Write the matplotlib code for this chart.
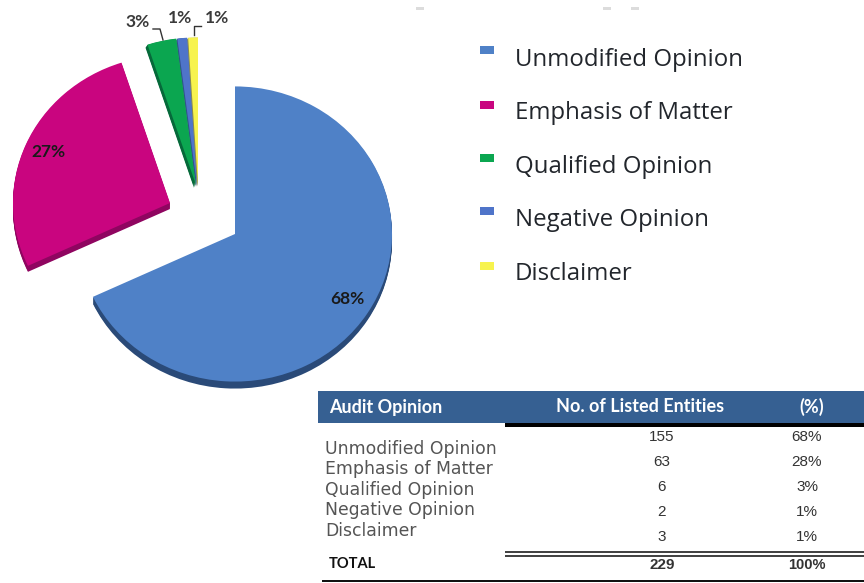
import matplotlib.pyplot as plt
from matplotlib.patches import Rectangle
from matplotlib.transforms import Affine2D

W = 864
H = 583

categories = ["Unmodified Opinion", "Emphasis of Matter", "Qualified Opinion", "Negative Opinion", "Disclaimer"]
pie_values = [68, 27, 3, 1, 1]
pie_labels = ["68%", "27%", "3%", "1%", "1%"]
entities = ["155", "63", "6", "2", "3"]
percents = ["68%", "28%", "3%", "1%", "1%"]
total_entities = "229"
total_percent = "100%"
header = ["Audit Opinion", "No. of Listed Entities", "(%)"]

colors = ["#4F81C7", "#C9057F", "#0BA650", "#4F74C9", "#F7F34E"]
dark_colors = ["#2A4A78", "#8F0560", "#06693A", "#33508C", "#8A8A50"]

# apex of each slice in image pixels (the slices are pulled out by hand)
centers = [(235, 234), (170, 203), (196, 185), (197, 185), (198, 185)]
radius = 157
squash = 0.94
depth = [(0, 7), (0, 6), (-2, 3), (-1, 2), (-1, 2)]


def py(y):
    # image pixels count from the top
    return H - y


fig = plt.figure(figsize=(W / 100, H / 100), dpi=100)
ax = fig.add_axes([0, 0, 1, 1])


def place(wedges, shift):
    # move each slice to its apex and flatten it a bit, the original is a tilted 3d pie
    for w, c, d in zip(wedges, centers, depth):
        x = c[0] + d[0] * shift
        y = py(c[1] + d[1] * shift)
        w.set_center((x, y))
        w.set_radius(radius)
        w.set_transform(Affine2D().translate(-x, -y).scale(1, squash).translate(x, y) + ax.transData)


# dark copies underneath give the 3d edge
for step in range(1, 8):
    under, _ = ax.pie(pie_values, colors=dark_colors, startangle=90, counterclock=False)
    place(under, step / 7)

top, _ = ax.pie(pie_values, colors=colors, startangle=90, counterclock=False)
place(top, 0)

# pie resets limits and aspect
ax.set_xlim(0, W)
ax.set_ylim(0, H)
ax.set_aspect("auto")
ax.axis("off")

# pie labels
label_pos = [(347, 299), (48, 152), (138, 22), (180, 18), (217, 18)]
for t, p in zip(pie_labels, label_pos):
    ax.text(p[0], py(p[1]), t, fontsize=12.5, fontweight="bold", family="Lato",
            color="#1a1a1a" if p[1] > 100 else "#3a3a3a", ha="center", va="center")

# leader lines
ax.plot([153, 160, 163], [py(29), py(29), py(40)], color="#333333", lw=1)
ax.plot([194, 194, 201], [py(35), py(26), py(26)], color="#333333", lw=1)

# faint specks along the top edge
for x in [420, 607, 635]:
    ax.add_patch(Rectangle((x - 4, py(9.5)), 8, 2.5, color="#dcdcdc", lw=0))

# legend
legend_y = [50, 105, 158, 211, 266]
text_y = [60, 113, 167, 220, 274]
for name, c, y1, y2 in zip(categories, colors, legend_y, text_y):
    ax.add_patch(Rectangle((480, py(y1 + 4)), 14, 8, color=c, lw=0))
    ax.text(515, py(y2), name, fontsize=17.3, family="Open Sans", color="#22262c", va="center")

# table
ax.add_patch(Rectangle((318, py(423)), 546, 32, color="#366092", lw=0))
ax.add_patch(Rectangle((505, py(427)), 359, 4, color="black", lw=0))
ax.add_patch(Rectangle((505, py(553)), 359, 2, color="#444444", lw=0))
ax.add_patch(Rectangle((505, py(556.5)), 359, 1.5, color="#444444", lw=0))
ax.add_patch(Rectangle((322, py(582)), 542, 2.5, color="#111111", lw=0))

ax.text(329, py(407), header[0], fontsize=13, fontweight="bold", family="Lato", color="white", va="center")
ax.text(640, py(407), header[1], fontsize=13, fontweight="bold", family="Lato", color="white", va="center", ha="center")
ax.text(812, py(407), header[2], fontsize=13, fontweight="bold", family="Lato", color="white", va="center", ha="center")

name_y = [449, 469, 490, 510, 531]
num_y = [437, 462, 487, 512, 537]
for name, n, p, y1, y2 in zip(categories, entities, percents, name_y, num_y):
    ax.text(325, py(y1), name, fontsize=12.4, family="DejaVu Sans", color="#555555", va="center")
    ax.text(662, py(y2), n, fontsize=11, family="Liberation Sans", color="#333333", va="center", ha="center")
    ax.text(807, py(y2), p, fontsize=11, family="Liberation Sans", color="#333333", va="center", ha="center")

ax.text(329, py(564), "TOTAL", fontsize=10.5, fontweight="bold", family="Lato", color="#111111", va="center")
ax.text(662, py(565), total_entities, fontsize=11, fontweight="bold", family="Liberation Sans", color="#333333", va="center", ha="center")
ax.text(807, py(565), total_percent, fontsize=10.5, fontweight="bold", family="Liberation Sans", color="#333333", va="center", ha="center")

fig.savefig("out.png", dpi=100)
